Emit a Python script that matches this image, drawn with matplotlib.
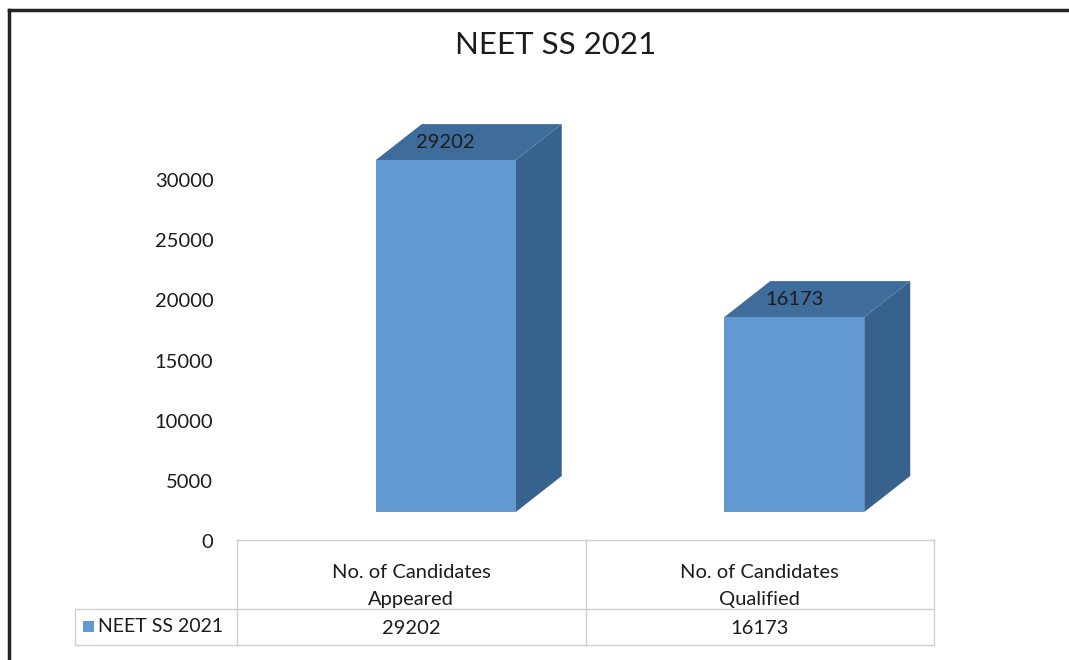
import matplotlib
matplotlib.use("Agg")
import matplotlib.pyplot as plt
from matplotlib.patches import Polygon, Rectangle
from matplotlib.lines import Line2D

title = "NEET SS 2021"
series_name = "NEET SS 2021"
categories = ["No. of Candidates\nAppeared", "No. of Candidates\nQualified"]
values = [29202, 16173]
yticks = [0, 5000, 10000, 15000, 20000, 25000, 30000]

FONT = ["Lato", "DejaVu Sans"]
plt.rcParams["font.family"] = FONT

W, H = 1069, 660
fig = plt.figure(figsize=(W / 100, H / 100), dpi=100)
fig.patch.set_facecolor("white")

def fx(px):
    return px / W

def fy(py):
    return (H - py) / H

TXT = "#1c1c1c"
PPK = 12.05
col_left, col_right = 237, 934
zero_front = 512
top_px = 60

ax = fig.add_axes([fx(col_left), fy(zero_front), fx(col_right - col_left),
                   (zero_front - top_px) / H])
ax.set_xlim(-0.5, len(values) - 0.5)
ax.set_ylim(0, (zero_front - top_px) / PPK * 1000)
ax.axis("off")

unit_px = (col_right - col_left) / len(values)
bar_w = 140 / unit_px
bar_off = 34.5 / unit_px
dx = 46 / unit_px
dy = 36 / PPK * 1000

front_c = "#6199d0"
side_c = "#36628d"
top_c = "#3f6d9b"

for i, v in enumerate(values):
    x0 = i + bar_off - bar_w / 2
    x1 = x0 + bar_w
    ax.add_patch(Polygon([(x1, 0), (x1, v), (x1 + dx, v + dy), (x1 + dx, dy)],
                         closed=True, facecolor=side_c, edgecolor="none", clip_on=False))
    ax.add_patch(Polygon([(x0, v), (x0 + dx, v + dy), (x1 + dx, v + dy), (x1, v)],
                         closed=True, facecolor=top_c, edgecolor="none", clip_on=False))
    ax.bar(i + bar_off, v, width=bar_w, color=front_c, edgecolor="none", clip_on=False)
    ax.text(i + bar_off, v + dy * 0.5, f"{v}", ha="center", va="center",
            fontsize=14.5, color=TXT)

zero_tick = 541
PPK_T = 12.03
axt = fig.add_axes([fx(col_left), fy(zero_tick), fx(col_right - col_left),
                    (zero_tick - top_px) / H])
axt.set_ylim(0, (zero_tick - top_px) / PPK_T * 1000)
axt.patch.set_visible(False)
for s in axt.spines.values():
    s.set_visible(False)
axt.set_xticks([])
axt.set_yticks(yticks)
axt.set_yticklabels([str(t) for t in yticks])
axt.tick_params(axis="y", length=0, pad=17, labelsize=14.5, labelcolor=TXT)

ov = fig.add_axes([0, 0, 1, 1])
ov.set_xlim(0, W)
ov.set_ylim(H, 0)
ov.axis("off")
ov.patch.set_visible(False)

ov.text(556, 45, title, ha="center", va="center", fontsize=22.5, color=TXT)

ov.add_line(Line2D([9, W], [10, 10], color="#222222", lw=2.5))
ov.add_line(Line2D([9, 9], [10, H], color="#222222", lw=2.5))

gc = "#cfcfcf"
hdr_top, hdr_bot, row_bot = 540, 609, 645
lab_left = 75
cols = [col_left + unit_px * k for k in range(len(values) + 1)]
ov.add_line(Line2D([col_left, col_right], [hdr_top, hdr_top], color=gc, lw=1))
ov.add_line(Line2D([lab_left, col_right], [hdr_bot, hdr_bot], color=gc, lw=1))
ov.add_line(Line2D([lab_left, col_right], [row_bot, row_bot], color=gc, lw=1))
ov.add_line(Line2D([lab_left, lab_left], [hdr_bot, row_bot], color=gc, lw=1))
for c in cols:
    ov.add_line(Line2D([c, c], [hdr_top, row_bot], color=gc, lw=1))

for k, (cat, v) in enumerate(zip(categories, values)):
    cx = (cols[k] + cols[k + 1]) / 2
    ov.text(cx, 586, cat, ha="center", va="center", fontsize=14.5,
            color=TXT, linespacing=1.75)
    ov.text(cx, 629, f"{v}", ha="center", va="center", fontsize=14.5, color=TXT)

ov.add_patch(Rectangle((83, 621), 11, 11, facecolor=front_c, edgecolor="none"))
ov.text(98, 627, series_name, ha="left", va="center", fontsize=14, color=TXT)

fig.savefig("out.png", dpi=100, facecolor="white")
